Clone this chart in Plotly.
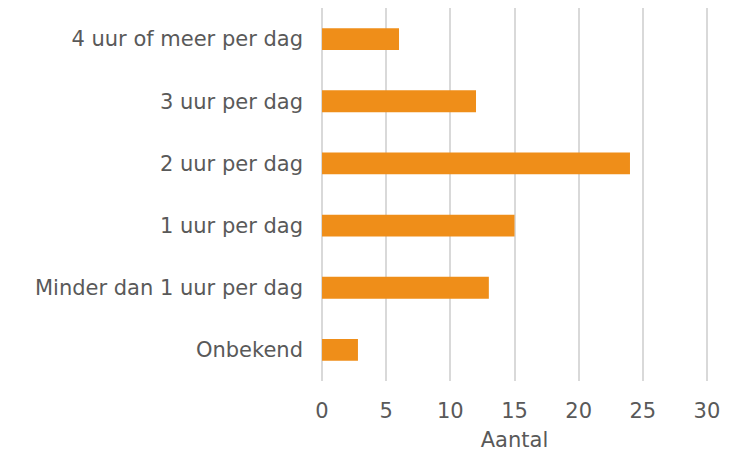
import plotly.graph_objects as go

categories = ["Onbekend", "Minder dan 1 uur per dag", "1 uur per dag",
              "2 uur per dag", "3 uur per dag", "4 uur of meer per dag"]
values = [2.8, 13, 15, 24, 12, 6]
x_ticks = [0, 5, 10, 15, 20, 25, 30]

fig = go.Figure(go.Bar(
    x=values, y=categories, orientation="h",
    marker=dict(color="#EF8E19", line=dict(width=0)),
    width=0.35,
))

fig.update_layout(
    width=740, height=447,
    margin=dict(l=313, r=40, t=0, b=74),
    paper_bgcolor="white", plot_bgcolor="white",
    font=dict(family="DejaVu Sans", size=21, color="#595959"),
    showlegend=False,
)
fig.update_xaxes(
    range=[-0.08, 30.08], tickvals=x_ticks, showgrid=True, gridcolor="#D9D9D9",
    gridwidth=2, zeroline=False, showline=False, ticks="",
    title=dict(text="Aantal", font=dict(size=21, color="#595959"), standoff=10),
    ticklabelstandoff=15,
)
fig.update_yaxes(
    categoryorder="array", categoryarray=categories,
    showgrid=False, zeroline=False, showline=False, ticks="",
    ticklabelstandoff=17,
)

fig.write_html("out.html")
